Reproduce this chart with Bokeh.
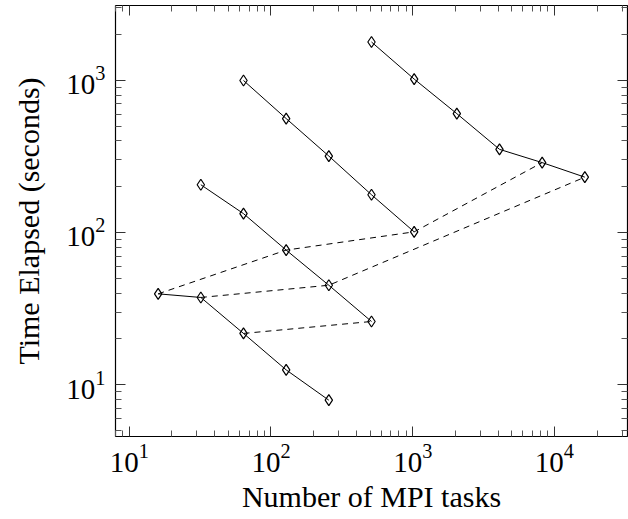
from bokeh.plotting import figure
from bokeh.models import LogAxis, FixedTicker, LogTickFormatter, Range1d
from bokeh.embed import file_html
from bokeh.resources import INLINE

# Strong-scaling series (solid)
x_a = [512, 1024, 2048, 4096, 8192, 16384]
y_a = [1787, 1020, 604, 352, 288, 231]
x_b = [64, 128, 256, 512, 1024]
y_b = [998, 561, 318, 177, 101]
x_c = [32, 64, 128, 256, 512]
y_c = [206, 133, 76.6, 45, 26]
x_d = [16, 32, 64, 128, 256]
y_d = [39.5, 37.4, 21.7, 12.5, 7.9]

# Weak-scaling connections (dashed)
x_w1 = [16, 128, 1024, 8192]
y_w1 = [39.5, 76.6, 101, 288]
x_w2 = [32, 256, 16384]
y_w2 = [37.4, 45, 231]
x_w3 = [64, 512]
y_w3 = [21.7, 26]

x_ticks = [10, 100, 1000, 10000]
y_ticks = [10, 100, 1000]
decades = [1, 10, 100, 1000, 10000]
mantissas = [2, 3, 4, 5, 6, 7, 8, 9]
minor = [m * d for d in decades for m in mantissas]

FONT = "Liberation Serif"
TICK_FS = "29px"
LABEL_FS = "30px"

p = figure(width=628, height=519, x_axis_type="log", y_axis_type="log",
           x_range=Range1d(8, 32768), y_range=Range1d(4.56, 3105),
           output_backend="svg", toolbar_location=None,
           min_border_left=115, min_border_right=1, min_border_top=5,
           min_border_bottom=83)

p.xgrid.grid_line_color = None
p.ygrid.grid_line_color = None
p.outline_line_color = "black"
p.outline_line_width = 1.2
p.outline_line_alpha = 1.0
p.background_fill_color = "white"
p.border_fill_color = "white"

xt = FixedTicker(ticks=x_ticks, minor_ticks=minor)
yt = FixedTicker(ticks=y_ticks, minor_ticks=minor)

def style(ax, labels=True):
    ax.major_tick_in = 10
    ax.major_tick_out = 0
    ax.minor_tick_in = 6
    ax.minor_tick_out = 0
    ax.major_tick_line_color = "#333333"
    ax.minor_tick_line_color = "#555555"
    ax.axis_line_color = None
    if labels:
        ax.major_label_text_font = FONT
        ax.major_label_text_font_size = TICK_FS
        ax.major_label_text_color = "black"
        ax.axis_label_text_font = FONT
        ax.axis_label_text_font_size = LABEL_FS
        ax.axis_label_text_font_style = "normal"
        ax.axis_label_text_color = "black"
    else:
        ax.major_label_text_font_size = "1px"
        ax.major_label_text_alpha = 0
        ax.major_label_standoff = 0

xa = p.xaxis[0]
xa.ticker = xt
xa.formatter = LogTickFormatter()
xa.axis_label = "Number of MPI tasks"
style(xa)
xa.major_label_standoff = 7
xa.axis_label_standoff = 5

ya = p.yaxis[0]
ya.ticker = yt
ya.formatter = LogTickFormatter()
ya.axis_label = "Time Elapsed (seconds)"
style(ya)
ya.major_label_standoff = 10
ya.axis_label_standoff = 18

top = LogAxis(ticker=xt, formatter=LogTickFormatter())
style(top, labels=False)
p.add_layout(top, "above")
right = LogAxis(ticker=yt, formatter=LogTickFormatter())
style(right, labels=False)
p.add_layout(right, "right")

for xs, ys in [(x_w1, y_w1), (x_w2, y_w2), (x_w3, y_w3)]:
    p.line(xs, ys, line_color="black", line_width=1, line_dash="6 5")

for xs, ys in [(x_a, y_a), (x_b, y_b), (x_c, y_c), (x_d, y_d)]:
    p.line(xs, ys, line_color="black", line_width=1)
    p.scatter(xs, ys, marker="diamond", size=11, fill_color=None,
              line_color="black", line_width=1.2)

open("out.html", "w").write(file_html(p, INLINE))
